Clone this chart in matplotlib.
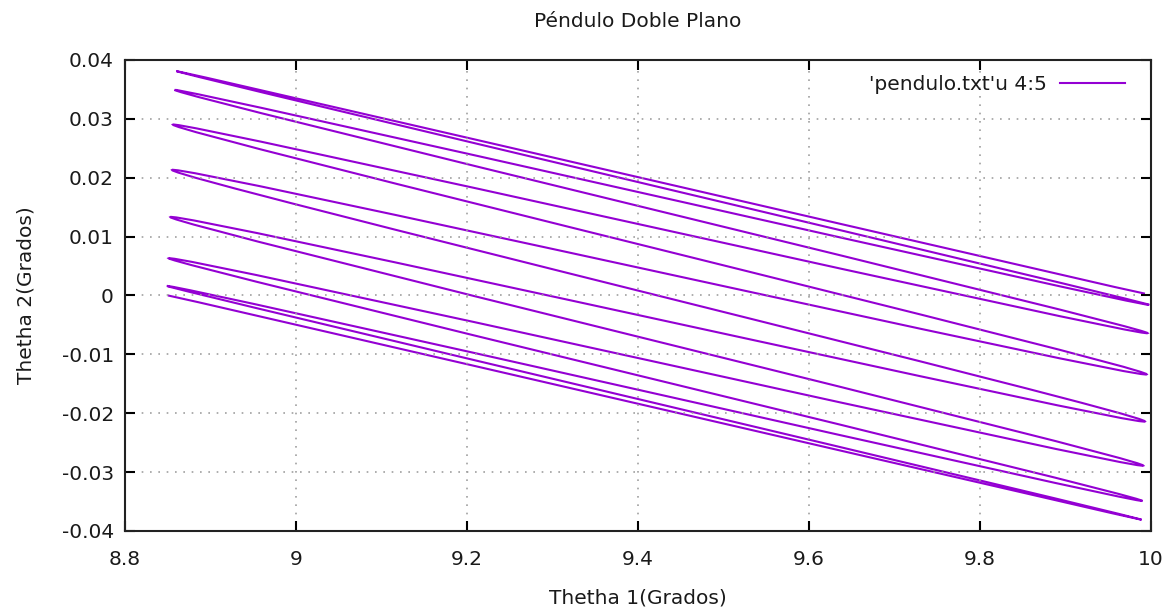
import matplotlib
matplotlib.use("Agg")
import matplotlib.pyplot as plt
from matplotlib.path import Path
from matplotlib.patches import PathPatch

# turning points of the trajectory, in drawing order
theta1 = [9.993, 8.860, 9.998, 8.858, 9.996, 8.856, 9.995, 8.855,
          9.993, 8.853, 9.991, 8.851, 9.990, 8.849, 9.989, 8.850]
theta2 = [0.0003, 0.0381, -0.0016, 0.0349, -0.0064, 0.0290, -0.0134, 0.0213,
          -0.0214, 0.0133, -0.0289, 0.0063, -0.0349, 0.0016, -0.0381, 0.0000]

xticks = [8.8, 9, 9.2, 9.4, 9.6, 9.8, 10]
yticks = [-0.04, -0.03, -0.02, -0.01, 0, 0.01, 0.02, 0.03, 0.04]
xtick_labels = ["8.8", "9", "9.2", "9.4", "9.6", "9.8", "10"]
ytick_labels = ["-0.04", "-0.03", "-0.02", "-0.01", "0", "0.01", "0.02", "0.03", "0.04"]

fs = 14.5
text_color = "#1a1a1a"
line_color = "#9400d3"


def swing_path(xs, ys):
    # each swing is drawn as a smooth curve with vertical tangents at the
    # turning points; the bulge follows the drift away from the mean slope
    slopes = [(ys[i+1]-ys[i]) / (xs[i+1]-xs[i]) for i in range(len(xs)-1)]
    k = -sum(slopes) / len(slopes)
    verts = [(xs[0], ys[0])]
    codes = [Path.MOVETO]
    for i in range(len(xs)-1):
        xa, ya, xb, yb = xs[i], ys[i], xs[i+1], ys[i+1]
        dc = (yb - ya) + k * (xb - xa)
        verts += [(xa, ya + dc/3), (xb, yb - dc/3), (xb, yb)]
        codes += [Path.CURVE4] * 3
    return Path(verts, codes)


fig = plt.figure(figsize=(11.73, 6.11), dpi=100)
ax = fig.add_axes([0.1066, 0.131, 0.8746, 0.771])

ax.add_patch(PathPatch(swing_path(theta1, theta2), fill=False,
                       edgecolor=line_color, lw=1.5))
ax.plot([], [], color=line_color, lw=1.5, label="'pendulo.txt'u 4:5")

ax.set_xlim(8.8, 10)
ax.set_ylim(-0.04, 0.04)
ax.set_xticks(xticks)
ax.set_xticklabels(xtick_labels)
ax.set_yticks(yticks)
ax.set_yticklabels(ytick_labels)

ax.tick_params(direction="in", length=7, width=1.5, top=True, right=True,
               labelsize=fs, labelcolor=text_color)
ax.tick_params(axis="x", pad=14)
ax.tick_params(axis="y", pad=8)
for s in ax.spines.values():
    s.set_linewidth(1.5)
    s.set_color("#222222")

ax.grid(True, color="#a0a0a0", linestyle=(0, (1, 4)), lw=1.2)

ax.set_title("Péndulo Doble Plano", fontsize=fs, color=text_color, pad=24)
ax.set_xlabel("Thetha 1(Grados)", fontsize=fs, color=text_color, labelpad=14)
ax.set_ylabel("Thetha 2(Grados)", fontsize=fs, color=text_color, labelpad=19)

ax.legend(loc="upper right", bbox_to_anchor=(1.0, 1.023), frameon=False,
          markerfirst=False, fontsize=fs, handlelength=3.2,
          handletextpad=0.65, borderaxespad=0.9, labelcolor=text_color)

fig.savefig("out.png", dpi=100)
